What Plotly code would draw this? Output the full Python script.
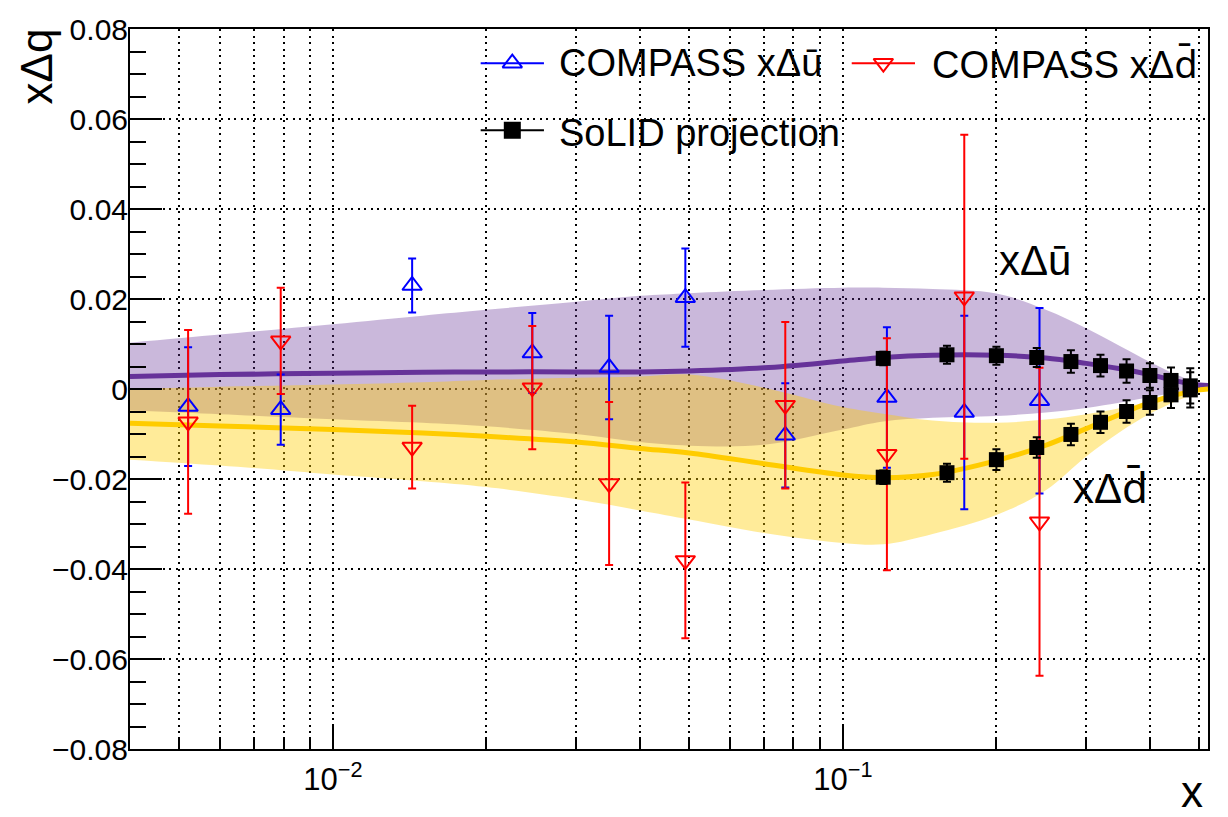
import math
import plotly.graph_objects as go

# COMPASS SIDIS points: x, x*Δū and x*Δd̄ with total uncertainties
compass_x = [0.0052, 0.0079, 0.0143, 0.0246, 0.0348, 0.0491, 0.0771, 0.122, 0.173, 0.243]
compass_ubar = [-0.0039, -0.0046, 0.0230, 0.0080, 0.0048, 0.0203, -0.0103, -0.0019, -0.0052, -0.0026]
compass_ubar_err = [0.0132, 0.0078, 0.0060, 0.0089, 0.0115, 0.0109, 0.0116, 0.0156, 0.0215, 0.0206]
compass_dbar = [-0.0073, 0.0107, -0.0129, 0.0003, -0.0210, -0.0381, -0.0036, -0.0145, 0.0205, -0.0295]
compass_dbar_err = [0.0204, 0.0118, 0.0092, 0.0137, 0.0181, 0.0173, 0.0185, 0.0258, 0.0360, 0.0342]

# SoLID projected points on top of the fitted curves
solid_x = [0.12, 0.16, 0.20, 0.24, 0.28, 0.32, 0.36, 0.40, 0.44, 0.48]
solid_ubar = [0.0068, 0.0076, 0.0074, 0.0070, 0.0061, 0.0052, 0.0040, 0.0030, 0.0019, 0.0007]
solid_ubar_err = [0.0015, 0.0020, 0.0020, 0.0021, 0.0025, 0.0024, 0.0026, 0.0027, 0.0029, 0.0039]
solid_dbar = [-0.0196, -0.0186, -0.0157, -0.0130, -0.0101, -0.0074, -0.0050, -0.0030, -0.0013, -0.0002]
solid_dbar_err = [0.0015, 0.0020, 0.0023, 0.0023, 0.0024, 0.0024, 0.0025, 0.0027, 0.0029, 0.0039]

# Parametrisation: central curves and uncertainty bands
band_x = [0.004, 0.006, 0.01, 0.015, 0.02, 0.03, 0.04, 0.05, 0.07, 0.1,
          0.12, 0.15, 0.2, 0.25, 0.3, 0.35, 0.4, 0.45, 0.5, 0.52]
ubar_hi = [0.0103, 0.0121, 0.0144, 0.0163, 0.0176, 0.0194, 0.0207, 0.0213, 0.0220, 0.0225,
           0.0225, 0.0222, 0.0212, 0.0176, 0.0135, 0.0095, 0.0060, 0.0032, 0.0012, 0.0008]
ubar_mid = [0.0028, 0.0032, 0.0035, 0.0037, 0.0038, 0.0038, 0.0038, 0.0040, 0.0047, 0.0062,
            0.0070, 0.0075, 0.0075, 0.0069, 0.0057, 0.0045, 0.0032, 0.0018, 0.0009, 0.0008]
ubar_lo = [-0.0048, -0.0056, -0.0067, -0.0075, -0.0083, -0.0100, -0.0118, -0.0126, -0.0124, -0.0090,
           -0.0072, -0.0064, -0.0060, -0.0052, -0.0042, -0.0030, -0.0018, -0.0008, 0.0002, 0.0005]
dbar_hi = [0.0000, 0.0005, 0.0010, 0.0015, 0.0020, 0.0025, 0.0028, 0.0032, 0.0003, -0.0040,
           -0.0055, -0.0070, -0.0075, -0.0068, -0.0056, -0.0042, -0.0028, -0.0015, -0.0004, 0.0000]
dbar_mid = [-0.0076, -0.0082, -0.0090, -0.0098, -0.0105, -0.0118, -0.0132, -0.0142, -0.0166, -0.0191,
            -0.0197, -0.0190, -0.0159, -0.0125, -0.0088, -0.0056, -0.0030, -0.0013, -0.0002, 0.0000]
dbar_lo = [-0.0157, -0.0170, -0.0190, -0.0205, -0.0218, -0.0245, -0.0270, -0.0290, -0.0320, -0.0342,
           -0.0345, -0.0322, -0.0280, -0.0225, -0.0150, -0.0095, -0.0055, -0.0027, -0.0007, -0.0002]

# Axis ticks
x_major_ticks = [0.01, 0.1]
x_major_text = ["10<sup>\u22122</sup>", "10<sup>\u22121</sup>"]
x_minor_ticks = [0.005, 0.006, 0.007, 0.008, 0.009,
                 0.02, 0.03, 0.04, 0.05, 0.06, 0.07, 0.08, 0.09,
                 0.2, 0.3, 0.4, 0.5]

FONT = "Liberation Sans, Arial, Helvetica, sans-serif"
# d with a combining macron, set in a font that anchors the bar above the ascender
DBAR = '<span style="font-family:Noto Sans">d\u0304</span>'
UBAR = "u\u0304"
PURPLE = "rgb(102,51,153)"
GOLD = "rgb(255,204,0)"
PURPLE_BAND = "rgba(102,51,153,0.35)"
GOLD_BAND = "rgba(255,204,0,0.40)"
GRID = dict(showgrid=True, gridcolor="black", gridwidth=1.5, griddash="2px,4.5px")
MARKER_SIZE = 17

fig = go.Figure()


def add_band(lo, hi, color):
    fig.add_trace(go.Scatter(x=band_x, y=lo, mode="lines",
                             line=dict(width=0, shape="spline", color=color),
                             hoverinfo="skip", showlegend=False))
    fig.add_trace(go.Scatter(x=band_x, y=hi, mode="lines",
                             line=dict(width=0, shape="spline", color=color),
                             fill="tonexty", fillcolor=color,
                             hoverinfo="skip", showlegend=False))


add_band(ubar_lo, ubar_hi, PURPLE_BAND)
add_band(dbar_lo, dbar_hi, GOLD_BAND)

fig.add_trace(go.Scatter(x=band_x, y=ubar_mid, mode="lines",
                         line=dict(color=PURPLE, width=5, shape="spline"), showlegend=False))
fig.add_trace(go.Scatter(x=band_x, y=dbar_mid, mode="lines",
                         line=dict(color=GOLD, width=5, shape="spline"), showlegend=False))

fig.add_trace(go.Scatter(
    x=compass_x, y=compass_ubar, mode="markers", showlegend=False,
    marker=dict(symbol="triangle-up-open", size=MARKER_SIZE, color="blue",
                line=dict(width=2, color="blue")),
    error_y=dict(type="data", array=compass_ubar_err, visible=True, color="blue", thickness=2, width=4)))
fig.add_trace(go.Scatter(
    x=compass_x, y=compass_dbar, mode="markers", showlegend=False,
    marker=dict(symbol="triangle-down-open", size=MARKER_SIZE, color="red",
                line=dict(width=2, color="red")),
    error_y=dict(type="data", array=compass_dbar_err, visible=True, color="red", thickness=2, width=4)))

for ys, es in ((solid_ubar, solid_ubar_err), (solid_dbar, solid_dbar_err)):
    fig.add_trace(go.Scatter(
        x=solid_x, y=ys, mode="markers", showlegend=False,
        marker=dict(symbol="square", size=15, color="black"),
        error_y=dict(type="data", array=es, visible=True, color="black", thickness=2, width=4)))

# Legend drawn on an overlay axis spanning the plot area in [0, 1]
legend_rows = [
    (0.3253, 0.3840, 0.9526, "blue", "triangle-up-open", MARKER_SIZE),
    (0.6695, 0.7282, 0.9526, "red", "triangle-down-open", MARKER_SIZE),
    (0.3253, 0.3840, 0.8593, "black", "square", 15),
]
for x0, x1, y0, col, sym, sz in legend_rows:
    fig.add_trace(go.Scatter(x=[x0, x1], y=[y0, y0], xaxis="x2", yaxis="y2", mode="lines",
                             line=dict(color=col, width=2), showlegend=False, hoverinfo="skip"))
    fig.add_trace(go.Scatter(x=[(x0 + x1) / 2], y=[y0], xaxis="x2", yaxis="y2", mode="markers",
                             marker=dict(symbol=sym, size=sz, color=col, line=dict(width=2, color=col)),
                             showlegend=False, hoverinfo="skip"))

annotations = [
    dict(text="COMPASS x\u0394" + UBAR, x=0.3964, y=0.9526, size=38, xanchor="left"),
    dict(text="COMPASS x\u0394" + DBAR, x=0.7421, y=0.9526, size=38, xanchor="left"),
    dict(text="SoLID projection", x=0.3964, y=0.8559, size=38, xanchor="left"),
    dict(text="x\u0394" + UBAR, x=0.8043, y=0.6785, size=42, xanchor="left"),
    dict(text="x\u0394" + DBAR, x=0.8726, y=0.3650, size=42, xanchor="left"),
    dict(text="x", x=0.9972, y=-0.0585, size=44, xanchor="right"),
]
ann = []
for a in annotations:
    ann.append(dict(text=a["text"], x=a["x"], y=a["y"], xref="paper", yref="paper",
                    xanchor=a["xanchor"], yanchor="middle", showarrow=False,
                    font=dict(family=FONT, size=a["size"], color="black")))
ann.append(dict(text="x\u0394q", x=-0.0872, y=0.9480, xref="paper", yref="paper",
                xanchor="center", yanchor="middle", textangle=-90, showarrow=False,
                font=dict(family=FONT, size=44, color="black")))

fig.update_layout(
    width=1228, height=817,
    margin=dict(l=130, r=20, t=17, b=68),
    paper_bgcolor="white", plot_bgcolor="white",
    font=dict(family=FONT, color="black"),
    showlegend=False,
    annotations=ann,
    xaxis=dict(
        type="log", range=[math.log10(0.004), math.log10(0.52)],
        tickmode="array", tickvals=x_major_ticks, ticktext=x_major_text,
        ticks="inside", ticklen=25, tickwidth=2, tickcolor="black",
        showline=True, linecolor="black", linewidth=2, mirror=True, zeroline=False,
        tickfont=dict(family=FONT, size=31, color="black"), ticklabelstandoff=2,
        minor=dict(tickmode="array", tickvals=x_minor_ticks, ticks="inside", ticklen=12,
                   tickwidth=2, tickcolor="black", **GRID),
        **GRID),
    yaxis=dict(
        range=[-0.08, 0.08], tick0=0, dtick=0.02,
        ticks="inside", ticklen=32, tickwidth=2, tickcolor="black",
        showline=True, linecolor="black", linewidth=2, mirror=True, zeroline=False,
        tickfont=dict(family=FONT, size=30, color="black"), ticklabelstandoff=-6,
        minor=dict(dtick=0.005, ticks="inside", ticklen=16, tickwidth=2,
                   tickcolor="black", showgrid=False),
        **GRID),
    xaxis2=dict(overlaying="x", range=[0, 1], visible=False, fixedrange=True),
    yaxis2=dict(overlaying="y", range=[0, 1], visible=False, fixedrange=True),
)

fig.write_html("out.html")
